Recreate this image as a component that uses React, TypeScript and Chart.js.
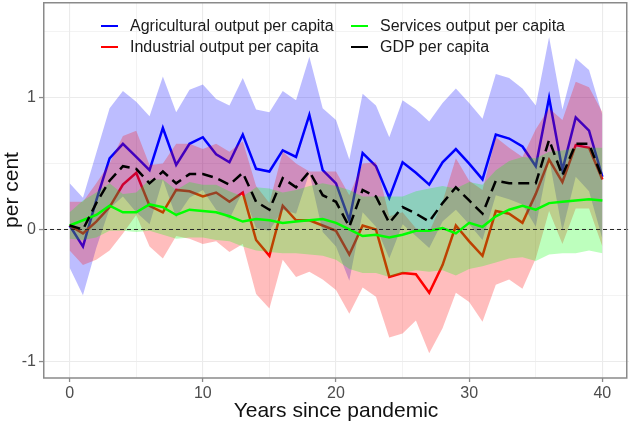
import { useEffect, useRef } from "react"
import Chart from "chart.js/auto"

// years since pandemic (x axis)
const years = [
  0, 1, 2, 3, 4, 5, 6, 7, 8, 9, 10, 11, 12, 13, 14, 15, 16, 17, 18, 19, 20,
  21, 22, 23, 24, 25, 26, 27, 28, 29, 30, 31, 32, 33, 34, 35, 36, 37, 38, 39, 40,
]

// Agricultural output per capita
const agri = [
  0.03, -0.13, 0.22, 0.54, 0.65, 0.55, 0.45, 0.77, 0.49, 0.65, 0.7, 0.57, 0.51, 0.72, 0.46, 0.44, 0.6, 0.55, 0.87, 0.45, 0.35,
  0.07, 0.58, 0.48, 0.24, 0.51, 0.43, 0.34, 0.51, 0.61, 0.5, 0.38, 0.72, 0.69, 0.63, 0.48, 1.0, 0.45, 0.85, 0.75, 0.4,
]
const agriHi = [
  0.35, 0.24, 0.58, 0.92, 1.05, 0.97, 0.86, 1.16, 0.89, 1.06, 1.1, 0.99, 0.94, 1.15, 0.91, 0.89, 1.05, 0.98, 1.31, 0.92, 0.83,
  0.53, 1.03, 0.94, 0.7, 0.98, 0.91, 0.82, 0.96, 1.07, 0.96, 0.84, 1.18, 1.15, 1.07, 0.94, 1.46, 0.91, 1.3, 1.21, 0.87,
]
const agriLo = [
  -0.29, -0.5, -0.14, 0.16, 0.25, 0.13, 0.04, 0.38, 0.09, 0.24, 0.3, 0.15, 0.08, 0.29, 0.01, -0.01, 0.15, 0.12, 0.43, -0.02, -0.13,
  -0.39, 0.13, 0.02, -0.22, 0.04, -0.05, -0.14, 0.06, 0.15, 0.04, -0.08, 0.26, 0.23, 0.19, 0.02, 0.54, -0.01, 0.4, 0.29, -0.07,
]

// Industrial output per capita
const ind = [
  0.03, -0.03, 0.06, 0.17, 0.34, 0.43, 0.18, 0.13, 0.3, 0.29, 0.25, 0.28, 0.21, 0.28, -0.08, -0.2, 0.18, 0.07, 0.07, 0.03, -0.01,
  -0.19, 0.03, 0.0, -0.36, -0.33, -0.34, -0.48, -0.27, 0.03, -0.09, -0.2, 0.14, 0.12, 0.05, 0.27, 0.53, 0.36, 0.64, 0.62, 0.38,
]
const indHi = [
  0.21, 0.21, 0.35, 0.5, 0.71, 0.75, 0.49, 0.5, 0.65, 0.65, 0.61, 0.65, 0.59, 0.67, 0.33, 0.2, 0.59, 0.5, 0.44, 0.44, 0.44,
  0.26, 0.5, 0.51, 0.1, 0.13, 0.01, -0.02, 0.21, 0.54, 0.37, 0.3, 0.7, 0.62, 0.55, 0.76, 0.92, 0.83, 1.12, 1.08, 0.89,
]
const indLo = [
  -0.16, -0.27, -0.23, -0.16, -0.03, 0.11, -0.13, -0.22, -0.05, -0.07, -0.11, -0.09, -0.17, -0.11, -0.49, -0.6, -0.23, -0.36, -0.32, -0.38, -0.46,
  -0.64, -0.44, -0.51, -0.82, -0.79, -0.69, -0.94, -0.75, -0.48, -0.55, -0.7, -0.42, -0.38, -0.45, -0.22, 0.14, -0.11, 0.16, 0.16, -0.13,
]

// Services output per capita
const svc = [
  0.03, 0.07, 0.11, 0.18, 0.13, 0.13, 0.19, 0.17, 0.11, 0.15, 0.14, 0.13, 0.1, 0.06, 0.08, 0.07, 0.05, 0.06, 0.07, 0.08, 0.05,
  0.0, -0.05, -0.04, -0.06, -0.04, -0.01, -0.01, 0.01, -0.03, 0.05, 0.02, 0.1, 0.15, 0.18, 0.15, 0.2, 0.21, 0.22, 0.23, 0.22,
]
const svcHi = [
  0.13, 0.22, 0.28, 0.35, 0.27, 0.28, 0.38, 0.38, 0.3, 0.36, 0.34, 0.34, 0.29, 0.25, 0.32, 0.31, 0.28, 0.3, 0.33, 0.35, 0.33,
  0.3, 0.25, 0.25, 0.25, 0.25, 0.29, 0.31, 0.33, 0.31, 0.36, 0.34, 0.45, 0.52, 0.55, 0.54, 0.59, 0.6, 0.62, 0.62, 0.62,
]
const svcLo = [
  -0.07, -0.08, -0.06, -0.01, -0.01, -0.02, -0.01, -0.04, -0.07, -0.06, -0.06, -0.08, -0.09, -0.13, -0.16, -0.17, -0.18, -0.18, -0.19, -0.2, -0.23,
  -0.3, -0.33, -0.33, -0.36, -0.33, -0.31, -0.32, -0.31, -0.35, -0.3, -0.28, -0.25, -0.22, -0.21, -0.24, -0.19, -0.18, -0.18, -0.16, -0.18,
]

// GDP per capita
const gdp = [
  0.03, 0.0, 0.2, 0.37, 0.48, 0.46, 0.35, 0.44, 0.35, 0.42, 0.42, 0.39, 0.34, 0.43, 0.21, 0.15, 0.39, 0.32, 0.44, 0.26, 0.21,
  0.02, 0.3, 0.25, 0.05, 0.17, 0.12, 0.06, 0.2, 0.32, 0.22, 0.12, 0.37, 0.35, 0.35, 0.35, 0.68, 0.41, 0.65, 0.65, 0.39,
]

const legendItems = [
  { label: "Agricultural output per capita", color: "#0000ff" },
  { label: "Industrial output per capita", color: "#ff0000" },
  { label: "Services output per capita", color: "#00ff00" },
  { label: "GDP per capita", color: "#000000" },
]

const FONT = '"Liberation Sans", Arial, sans-serif'

const pts = (vals: number[]) => years.map((x, i) => ({ x, y: vals[i] }))

// panel border + dashed zero line
const framePlugin = {
  id: "frame",
  afterDatasetsDraw(chart: any) {
    const { ctx, chartArea: a, scales } = chart
    const y0 = scales.y.getPixelForValue(0)
    ctx.save()
    ctx.strokeStyle = "#222"
    ctx.lineWidth = 1
    ctx.setLineDash([4, 3])
    ctx.beginPath()
    ctx.moveTo(a.left, y0)
    ctx.lineTo(a.right, y0)
    ctx.stroke()
    ctx.restore()
  },
  afterDraw(chart: any) {
    const { ctx, chartArea: a } = chart
    ctx.save()
    ctx.strokeStyle = "#8a8a8a"
    ctx.lineWidth = 1.5
    ctx.strokeRect(a.left + 0.75, a.top + 0.75, a.right - a.left - 3, a.bottom - a.top - 0.75)
    ctx.restore()
  },
}

export default function App() {
  const canvasRef = useRef<HTMLCanvasElement>(null)
  const chartRef = useRef<Chart | null>(null)

  useEffect(() => {
    document.body.style.margin = "0"
    if (!canvasRef.current) return
    if (chartRef.current) chartRef.current.destroy()

    const line = (label: string, vals: number[], color: string, order: number, dash: number[] = []) => ({
      label,
      data: pts(vals),
      borderColor: color,
      borderWidth: 2.5,
      borderDash: dash,
      pointRadius: 0,
      fill: false,
      order,
    })
    const band = (label: string, vals: number[], color: string, order: number, fill: any) => ({
      label,
      data: pts(vals),
      borderColor: "transparent",
      borderWidth: 0,
      backgroundColor: color,
      pointRadius: 0,
      fill,
      order,
    })

    chartRef.current = new Chart(canvasRef.current, {
      type: "line",
      data: {
        datasets: [
          line("Agricultural output per capita", agri, "#0000ff", 8),
          line("Industrial output per capita", ind, "#ff0000", 7),
          band("agri hi", agriHi, "rgba(0, 0, 255, 0.26)", 6, "+1"),
          band("agri lo", agriLo, "transparent", 6, false),
          band("ind hi", indHi, "rgba(255, 0, 0, 0.26)", 5, "+1"),
          band("ind lo", indLo, "transparent", 5, false),
          band("svc hi", svcHi, "rgba(0, 255, 0, 0.26)", 4, "+1"),
          band("svc lo", svcLo, "transparent", 4, false),
          line("Services output per capita", svc, "#00ff00", 2),
          line("GDP per capita", gdp, "#000000", 1, [11, 6]),
        ] as any,
      },
      options: {
        animation: false,
        responsive: true,
        maintainAspectRatio: false,
        layout: { padding: { top: 2, right: 0, left: 0, bottom: 0 }, autoPadding: false },
        plugins: {
          legend: { display: false },
          tooltip: { enabled: false },
        },
        scales: {
          x: {
            type: "linear",
            min: -2,
            max: 42,
            afterFit: (s: any) => {
              s.height = 46
              s.paddingLeft = 0
              s.paddingRight = 0
            },
            ticks: {
              stepSize: 5,
              includeBounds: false,
              autoSkip: false,
              maxRotation: 0,
              padding: 2,
              color: "#4d4d4d",
              font: { family: FONT, size: 16 },
              callback: (v: any) => (Number(v) % 10 === 0 ? String(v) : ""),
            },
            grid: {
              color: "#ebebeb",
              lineWidth: (c: any) => (c.tick && c.tick.value % 10 === 0 ? 1.1 : 0.6),
              tickLength: 4,
              tickColor: (c: any) => (c.tick && c.tick.value % 10 === 0 ? "#8a8a8a" : "transparent"),
              tickWidth: 1.3,
            },
            border: { display: false },
            title: {
              display: true,
              text: "Years since pandemic",
              color: "#111",
              font: { family: FONT, size: 21 },
              padding: 0,
            },
          },
          y: {
            type: "linear",
            min: -1.127,
            max: 1.726,
            afterFit: (s: any) => {
              s.width = 43
              s.paddingTop = 0
              s.paddingBottom = 0
            },
            ticks: {
              stepSize: 0.5,
              includeBounds: false,
              padding: 3,
              color: "#4d4d4d",
              font: { family: FONT, size: 16 },
              callback: (v: any) => (Number.isInteger(Number(v)) ? String(v) : ""),
            },
            grid: {
              color: "#ebebeb",
              lineWidth: (c: any) => (c.tick && Number.isInteger(c.tick.value) ? 1.1 : 0.6),
              tickLength: 4,
              tickColor: (c: any) => (c.tick && Number.isInteger(c.tick.value) ? "#8a8a8a" : "transparent"),
              tickWidth: 1.3,
            },
            border: { display: false },
            title: {
              display: true,
              text: "per cent",
              color: "#111",
              font: { family: FONT, size: 21 },
              padding: 0,
            },
          },
        },
      },
      plugins: [framePlugin],
    })

    return () => {
      if (chartRef.current) {
        chartRef.current.destroy()
        chartRef.current = null
      }
    }
  }, [])

  return (
    <div style={{ position: "relative", width: 629, height: 424, fontFamily: FONT }}>
      <canvas ref={canvasRef} />
      {legendItems.map((item, i) => (
        <div
          key={item.label}
          style={{
            position: "absolute",
            left: 101 + Math.floor(i / 2) * 250,
            top: 16 + (i % 2) * 20.5,
            height: 20,
            display: "flex",
            alignItems: "center",
            fontSize: 16,
            color: "#1a1a1a",
            whiteSpace: "nowrap",
          }}
        >
          <span
            style={{
              display: "inline-block",
              width: 17,
              height: 0,
              borderTop: `2.5px solid ${item.color}`,
              marginRight: 12,
            }}
          />
          {item.label}
        </div>
      ))}
    </div>
  )
}
